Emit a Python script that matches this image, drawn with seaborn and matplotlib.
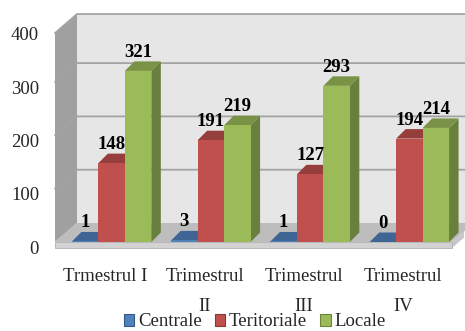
import matplotlib
matplotlib.use("Agg")
import matplotlib.pyplot as plt
import seaborn as sns
import pandas as pd
import numpy as np
from matplotlib.patches import Polygon, Patch
from matplotlib.transforms import ScaledTranslation
from matplotlib.colors import to_rgb

quarters = ["Trmestrul I", "Trimestrul\nII", "Trimestrul\nIII", "Trimestrul\nIV"]
series = ["Centrale", "Teritoriale", "Locale"]
centrale = [1, 3, 1, 0]
teritoriale = [148, 191, 127, 194]
locale = [321, 219, 293, 214]
colors = ["#4F81BD", "#C0504D", "#9BBB59"]
yticks = [0, 100, 200, 300, 400]

rows = []
for s, vals in zip(series, [centrale, teritoriale, locale]):
    for q, v in zip(quarters, vals):
        rows.append({"quarter": q, "series": s, "value": v})
df = pd.DataFrame(rows)

sns.set_theme(style="white")
plt.rcParams["font.family"] = ["Liberation Serif", "DejaVu Serif"]

DPI = 100
fig = plt.figure(figsize=(4.65, 3.31), dpi=DPI)
W, H = 465, 331
ax = fig.add_axes([62 / W, (H - 242) / H, 397 / W, 213.2 / H])

sns.barplot(data=df, x="quarter", y="value", hue="series", order=quarters,
            hue_order=series, palette=colors, saturation=1, width=0.8,
            legend=False, ax=ax, linewidth=0, errorbar=None)
ax.set_xlim(-0.5, 3.5)
ax.set_ylim(0, 400)
ax.set_xlabel("")
ax.set_ylabel("")
for sp in ax.spines.values():
    sp.set_visible(False)
ax.patch.set_alpha(0)

inv = fig.transFigure.inverted()


def P(xd, yd, dx=0.0, dy=0.0):
    d = ax.transData.transform((xd, yd)) + np.array([dx, dy])
    return inv.transform(d)


def poly(pts, **kw):
    p = Polygon(pts, closed=True, transform=fig.transFigure, clip_on=False, **kw)
    ax.add_patch(p)
    return p


# room geometry (pixels)
FX = -7   # front-left edge of wall relative to axes left
WDX, WDY = 22, 19  # wall depth
x_l, x_r = -0.5, 3.5
top = 392

# back wall
poly([P(x_l, 0, FX + WDX, WDY), P(x_r + 0.2, 0, FX + WDX, WDY),
      P(x_r + 0.2, top, FX + WDX, WDY), P(x_l, top, FX + WDX, WDY)],
     facecolor="#e6e6e6", edgecolor="none", zorder=0.1)
# left wall
poly([P(x_l, 0, FX, 0), P(x_l, 0, FX + WDX, WDY),
      P(x_l, top, FX + WDX, WDY), P(x_l, top, FX, 0)],
     facecolor="#a0a0a0", edgecolor="none", zorder=0.2)
# gridlines on walls
for t in yticks[1:]:
    tt = min(t, top)
    pts = [P(x_l, tt, FX, 0), P(x_l, tt, FX + WDX, WDY), P(x_r + 0.2, tt, FX + WDX, WDY)]
    xs = [p[0] for p in pts]
    ys = [p[1] for p in pts]
    ax.add_line(plt.Line2D(xs, ys, transform=fig.transFigure, color="#a3a3a3",
                           lw=1.3, clip_on=False, zorder=0.3))
# floor top
poly([P(x_l, 0, FX, 0), P(x_r, 0, FX, 0), P(x_r, 0, FX + WDX, WDY), P(x_l, 0, FX + WDX, WDY)],
     facecolor="#bdbdbd", edgecolor="none", zorder=0.4)
# floor slab front
poly([P(x_l, 0, FX, 0), P(x_r, 0, FX, 0), P(x_r, 0, FX, -6), P(x_l, 0, FX, -6)],
     facecolor="#d2d2d2", edgecolor="#b0b0b0", lw=0.6, zorder=0.45)
# floor slab right end
poly([P(x_r, 0, FX, 0), P(x_r, 0, FX + WDX * 0.55, WDY * 0.55), P(x_r, 0, FX + WDX * 0.55, WDY * 0.55 - 6),
      P(x_r, 0, FX, -6)],
     facecolor="#c8c8c8", edgecolor="none", zorder=0.44)

# 3D bar faces derived from seaborn bar patches
D = 9.5
bars = sorted([p for p in ax.patches if hasattr(p, "get_width") and p.get_height() >= 0
               and p.zorder < 1.5 and p.get_width() < 0.5], key=lambda p: p.get_x())
for i, b in enumerate(bars):
    x0, w, h = b.get_x(), b.get_width(), b.get_height()
    fc = np.array(to_rgb(b.get_facecolor()))
    z = 2 + i * 0.01
    poly([P(x0 + w, 0), P(x0 + w, 0, D, D), P(x0 + w, h, D, D), P(x0 + w, h)],
         facecolor=fc * 0.68, edgecolor="none", zorder=z)
    poly([P(x0, h), P(x0 + w, h), P(x0 + w, h, D, D), P(x0, h, D, D)],
         facecolor=fc * 0.78, edgecolor="none", zorder=z + 0.002)
    b.set_zorder(z + 0.005)
    ax.annotate(f"{int(round(h))}", xy=(x0 + w / 2, h), xytext=(0, 14 * 0.72),
                textcoords="offset points", ha="center", va="baseline",
                fontsize=13.5, fontweight="bold", color="black", zorder=5,
                annotation_clip=False)

# ticks
ax.set_yticks(yticks)
ax.set_yticklabels([str(t) for t in yticks], fontsize=13.5)
ax.tick_params(axis="y", length=0, pad=16.5)
ax.tick_params(axis="x", length=0, pad=18.5)
ax.set_xticks(range(len(quarters)))
ax.set_xticklabels(quarters, fontsize=13.5, linespacing=2.0)
for lab in ax.get_yticklabels():
    lab.set_transform(lab.get_transform() + ScaledTranslation(0, -5 / DPI, fig.dpi_scale_trans))
for lab in ax.get_xticklabels():
    lab.set_transform(lab.get_transform() + ScaledTranslation(-6 / DPI, 0, fig.dpi_scale_trans))
ax.grid(False)

handles = [Patch(facecolor=c, edgecolor=np.array(to_rgb(c)) * 0.7, lw=0.8, label=s)
           for c, s in zip(colors, series)]
fig.legend(handles=handles, loc="center", bbox_to_anchor=(0.548, 1 - 322 / H), ncol=3,
           frameon=False, fontsize=13.5, handlelength=0.55, handleheight=0.55,
           handletextpad=0.2, columnspacing=0.7, borderpad=0, borderaxespad=0)

fig.savefig("out.png", dpi=DPI)
